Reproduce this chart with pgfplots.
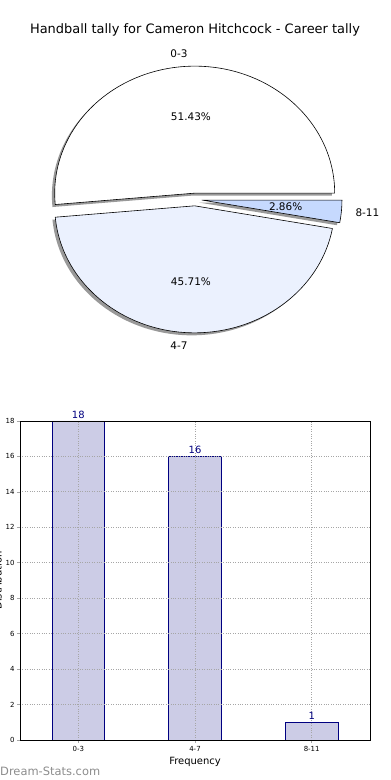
\documentclass[border=0pt]{standalone}
\usepackage{pgfplots}
\pgfplotsset{compat=1.18}
\usepackage{pgfplotstable}
\usepackage{fontspec}
\setmainfont{DejaVu Sans}
\definecolor{pieA}{RGB}{255,255,255}
\definecolor{pieB}{RGB}{235,241,254}
\definecolor{pieC}{RGB}{198,217,254}
\definecolor{barfill}{RGB}{204,204,230}
\definecolor{navyc}{RGB}{0,0,128}
\definecolor{wm}{RGB}{140,140,140}
\pgfkeys{/pgf/number format/assume math mode=true}

\pgfplotstableread{
label value
0-3 18
4-7 16
8-11 1
}\piedata

\begin{document}
\begin{tikzpicture}[x=1bp,y=1bp]
\pgfplotstablegetelem{0}{value}\of\piedata \let\vA\pgfplotsretval
\pgfplotstablegetelem{1}{value}\of\piedata \let\vB\pgfplotsretval
\pgfplotstablegetelem{2}{value}\of\piedata \let\vC\pgfplotsretval
\pgfmathsetmacro\tot{\vA+\vB+\vC}
\pgfmathsetmacro\sA{0}
\pgfmathsetmacro\sB{360*\vA/\tot}
\pgfmathsetmacro\sC{360*(\vA+\vB)/\tot}
\pgfmathsetmacro\sD{360}
\pgfmathsetmacro\mA{(\sA+\sB)/2}
\pgfmathsetmacro\mB{(\sB+\sC)/2}
\pgfmathsetmacro\mC{(\sC+\sD)/2}
\def\cx{195}\def\cy{580.5}\def\rx{140}\def\ry{127}
\pgfmathsetmacro\xA{\cx+0.05*\rx*cos(\mA)}\pgfmathsetmacro\yA{\cy+0.05*\ry*sin(\mA)}
\pgfmathsetmacro\xB{\cx+0.05*\rx*cos(\mB)}\pgfmathsetmacro\yB{\cy+0.05*\ry*sin(\mB)}
\pgfmathsetmacro\xC{\cx+0.05*\rx*cos(\mC)}\pgfmathsetmacro\yC{\cy+0.05*\ry*sin(\mC)}
\pgfmathsetmacro\lxA{\cx+1.15*\rx*cos(\mA)}\pgfmathsetmacro\lyA{\cy+1.15*\ry*sin(\mA)}
\pgfmathsetmacro\lxB{\cx+1.15*\rx*cos(\mB)}\pgfmathsetmacro\lyB{\cy+1.15*\ry*sin(\mB)}
\pgfmathsetmacro\lxC{\cx+1.15*\rx*cos(\mC)}\pgfmathsetmacro\lyC{\cy+1.15*\ry*sin(\mC)}
\pgfmathsetmacro\pxA{\cx+0.65*\rx*cos(\mA)}\pgfmathsetmacro\pyA{\cy+0.65*\ry*sin(\mA)}
\pgfmathsetmacro\pxB{\cx+0.65*\rx*cos(\mB)}\pgfmathsetmacro\pyB{\cy+0.65*\ry*sin(\mB)}
\pgfmathsetmacro\pxC{\cx+0.65*\rx*cos(\mC)}\pgfmathsetmacro\pyC{\cy+0.65*\ry*sin(\mC)}
\pgfmathsetmacro\pA{100*\vA/\tot}
\pgfmathsetmacro\pB{100*\vB/\tot}
\pgfmathsetmacro\pC{100*\vC/\tot}

% ---------- pie ----------
\begin{axis}[at={(0bp,0bp)}, anchor=south west, width=390bp, height=780bp,
  scale only axis, xmin=0, xmax=390, ymin=0, ymax=780, hide axis, clip=false]
  % shadows
  \fill[black, opacity=0.4, xshift=-2.8bp, yshift=-2.5bp] (\xA,\yA) -- ++(\sA:\rx bp and \ry bp)
     arc[start angle=\sA, end angle=\sB, x radius=\rx bp, y radius=\ry bp] -- cycle;
  \fill[black, opacity=0.4, xshift=-2.8bp, yshift=-2.5bp] (\xB,\yB) -- ++(\sB:\rx bp and \ry bp)
     arc[start angle=\sB, end angle=\sC, x radius=\rx bp, y radius=\ry bp] -- cycle;
  \fill[black, opacity=0.4, xshift=-2.8bp, yshift=-2.5bp] (\xC,\yC) -- ++(\sC:\rx bp and \ry bp)
     arc[start angle=\sC, end angle=\sD, x radius=\rx bp, y radius=\ry bp] -- cycle;
  % wedges
  \filldraw[fill=pieA, draw=black, line width=0.6bp, line join=round] (\xA,\yA) -- ++(\sA:\rx bp and \ry bp)
     arc[start angle=\sA, end angle=\sB, x radius=\rx bp, y radius=\ry bp] -- cycle;
  \filldraw[fill=pieB, draw=black, line width=0.6bp, line join=round] (\xB,\yB) -- ++(\sB:\rx bp and \ry bp)
     arc[start angle=\sB, end angle=\sC, x radius=\rx bp, y radius=\ry bp] -- cycle;
  \filldraw[fill=pieC, draw=black, line width=0.6bp, line join=round] (\xC,\yC) -- ++(\sC:\rx bp and \ry bp)
     arc[start angle=\sC, end angle=\sD, x radius=\rx bp, y radius=\ry bp] -- cycle;
  % labels
  \node[anchor=east, font=\fontsize{10.5}{12}\selectfont, inner sep=0pt] at (\lxA,\lyA) {0-3};
  \node[anchor=east, font=\fontsize{10.5}{12}\selectfont, inner sep=0pt] at (\lxB,\lyB) {4-7};
  \node[anchor=west, font=\fontsize{10.5}{12}\selectfont, inner sep=0pt] at (\lxC,\lyC) {8-11};
  \node[font=\fontsize{10.5}{12}\selectfont, inner sep=0pt] at (\pxA,\pyA) {\pgfmathprintnumber[fixed,fixed zerofill,precision=2]{\pA}\%};
  \node[font=\fontsize{10.5}{12}\selectfont, inner sep=0pt] at (\pxB,\pyB) {\pgfmathprintnumber[fixed,fixed zerofill,precision=2]{\pB}\%};
  \node[font=\fontsize{10.5}{12}\selectfont, inner sep=0pt] at (\pxC,\pyC) {\pgfmathprintnumber[fixed,fixed zerofill,precision=2]{\pC}\%};
\end{axis}

\node[font=\fontsize{13}{15}\selectfont] at (195,750) {Handball tally for Cameron Hitchcock - Career tally};

% ---------- bars ----------
\begin{axis}[at={(20bp,40bp)}, anchor=south west, width=350bp, height=319bp, scale only axis,
  xmin=-0.5, xmax=2.5, ymin=0, ymax=18,
  xtick={0,1,2}, xticklabels={0-3,4-7,8-11},
  ytick={0,2,...,18},
  axis on top,
  grid=major, grid style={dotted, gray!70, line width=0.8bp},
  axis line style={black, line width=0.8bp},
  tick style={gray!70, line width=0.6bp}, major tick length=3bp, tick align=outside,
  xtick pos=bottom, ytick pos=left,
  ticklabel style={font=\fontsize{7}{8}\selectfont},
  yticklabel style={xshift=1bp},
  /pgf/number format/assume math mode=true,
  xlabel={Frequency}, ylabel={Distribution},
  label style={font=\fontsize{10}{12}\selectfont},
  xlabel style={yshift=1.5bp},
  ylabel style={yshift=-3bp},
  ]
  \addplot[ybar, bar width=0.45, fill=barfill, draw=navyc, line width=0.7bp,
    nodes near coords, nodes near coords style={font=\fontsize{10}{12}\selectfont, text=navyc, inner sep=2.5bp}]
    table[x expr=\coordindex, y=value] \piedata;
\end{axis}

\node[anchor=west, font=\fontsize{11.5}{13}\selectfont, text=wm, inner sep=0pt] at (0,9) {Dream-Stats.com};

\pgfresetboundingbox
\useasboundingbox (0,0) rectangle (390,780);
\end{tikzpicture}
\end{document}
